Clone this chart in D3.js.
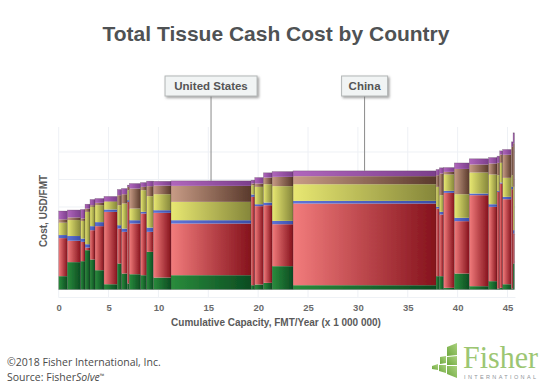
<!DOCTYPE html>
<html>
<head>
<meta charset="utf-8">
<script src="https://cdn.jsdelivr.net/npm/d3@7"></script>
<style>
    html, body { margin: 0; padding: 0; background: #fff; }
    svg { display: block; }
    text { font-family: "Liberation Sans", Arial, sans-serif; }
</style>
</head>
<body>
<div id="chart"></div>
<script>
// Mill groups (capacity in million FMT, costs in USD/FMT, estimated)
const capacity = [0.87, 1.34, 0.43, 0.5, 0.5, 0.9, 1.34, 0.43, 0.57, 0.2, 1.14, 0.6, 0.67, 1.77, 8.03, 0.37, 0.87, 0.87, 2.1, 14.34, 0.33, 0.43, 1.07, 1.5, 1.94, 0.84, 0.27, 0.3, 0.87, 0.17, 0.13]
const green  = [96, 197, 204, 283, 216, 139, 38, 187, 115, 43, 110, 103, 271, 86, 103, 31, 36, 48, 168, 31, 96, 96, 12, 115, 24, 60, 7, 12, 38, 7, 187]
const red    = [274, 154, 139, 19, 211, 317, 521, 252, 300, 588, 365, 444, 144, 466, 372, 636, 564, 559, 302, 588, 487, 444, 684, 377, 655, 535, 696, 751, 612, 715, 216]
const blue   = [22, 34, 24, 24, 29, 29, 17, 24, 24, 12, 24, 12, 31, 19, 24, 17, 14, 19, 24, 19, 12, 19, 14, 24, 12, 19, 7, 7, 17, 17, 24]
const yellow = [89, 115, 127, 233, 139, 122, 55, 144, 180, 72, 84, 156, 226, 115, 132, 67, 125, 132, 250, 120, 144, 120, 118, 170, 151, 214, 113, 142, 137, 84, 312]
const brown  = [24, 19, 17, 24, 12, 17, 5, 72, 67, 24, 144, 24, 72, 62, 115, 12, 24, 48, 67, 58, 84, 156, 19, 182, 58, 79, 89, 60, 166, 204, 312]
const purple = [60, 53, 65, 31, 41, 31, 34, 41, 41, 12, 36, 31, 36, 31, 36, 24, 43, 34, 38, 38, 41, 41, 31, 43, 41, 43, 48, 26, 38, 36, 77]

const layerNames = ["green", "red", "blue", "yellow", "brown", "purple"]
const layerValues = [green, red, blue, yellow, brown, purple]
const layerColors = [
    ["#2a8c3c", "#0c4c22"],
    ["#f27c7c", "#85121c"],
    ["#5f74d8", "#3a4ea8"],
    ["#e8e872", "#85863a"],
    ["#c89c86", "#5a3a2c"],
    ["#b066bc", "#7c3f8c"]
]
const xTicks = [0, 5, 10, 15, 20, 25, 30, 35, 40, 45]
const yGrid = [0, 198, 396, 594, 792, 990]
const callouts = [
    {name: "United States", index: 14, w: 92},
    {name: "China", index: 19, w: 46}
]

const width = 550
const height = 387

var svg = d3.select("#chart").append("svg")
    .attr("width", width)
    .attr("height", height)

var x = d3.scaleLinear().domain([0, 45]).range([58.7, 507.5])
var y = d3.scaleLinear().domain([0, 1000]).range([289.5, 150.6])

// gradients, light on the left and dark on the right
var defs = svg.append("defs")
layerNames.forEach(function (name, i) {
    var g = defs.append("linearGradient").attr("id", "grad-" + name)
    g.append("stop").attr("offset", "0%").attr("stop-color", layerColors[i][0])
    g.append("stop").attr("offset", "100%").attr("stop-color", layerColors[i][1])
})
defs.append("filter").attr("id", "soft")
    .attr("x", "-5%").attr("y", "-5%").attr("width", "110%").attr("height", "110%")
    .append("feGaussianBlur").attr("stdDeviation", 0.45)
var shadow = defs.append("filter").attr("id", "shadow")
    .attr("x", "-10%").attr("y", "-20%").attr("width", "125%").attr("height", "150%")
shadow.append("feDropShadow").attr("dx", 1.5).attr("dy", 1.5).attr("stdDeviation", 1)
    .attr("flood-color", "#777").attr("flood-opacity", 0.7)
var logoGrad = defs.append("linearGradient").attr("id", "grad-logo")
    .attr("x1", "0%").attr("y1", "100%").attr("x2", "100%").attr("y2", "0%")
logoGrad.append("stop").attr("offset", "0%").attr("stop-color", "#6fa83f")
logoGrad.append("stop").attr("offset", "100%").attr("stop-color", "#aad27e")

// title
svg.append("text")
    .attr("x", 276)
    .attr("y", 41)
    .attr("text-anchor", "middle")
    .style("font-size", "21px")
    .style("font-weight", "bold")
    .style("fill", "#4f5254")
    .text("Total Tissue Cash Cost by Country")

// grid
var plotRight = x(45.8)
var grid = svg.append("g").attr("stroke", "#eef1f5").attr("stroke-width", 1)
yGrid.forEach(function (d) {
    grid.append("line").attr("x1", x(0)).attr("x2", plotRight).attr("y1", y(d)).attr("y2", y(d))
})
grid.append("line").attr("x1", x(0)).attr("x2", plotRight).attr("y1", y(-58)).attr("y2", y(-58))
xTicks.forEach(function (d) {
    grid.append("line").attr("x1", x(d)).attr("x2", x(d)).attr("y1", y(-58)).attr("y2", y(1170))
})

// stacked bars, bar width is the capacity
var starts = []
var sum = 0
capacity.forEach(function (c) {
    starts.push(sum)
    sum += c
})

var bars = svg.append("g").attr("filter", "url(#soft)")
capacity.forEach(function (c, i) {
    var base = 0
    layerNames.forEach(function (name, j) {
        var v = layerValues[j][i]
        bars.append("rect")
            .attr("x", x(starts[i]))
            .attr("width", x(starts[i] + c) - x(starts[i]))
            .attr("y", y(base + v))
            .attr("height", y(base) - y(base + v))
            .attr("fill", "url(#grad-" + name + ")")
        base += v
    })
    bars.append("rect")
        .attr("x", x(starts[i]))
        .attr("width", x(starts[i] + c) - x(starts[i]))
        .attr("y", y(base))
        .attr("height", y(0) - y(base))
        .attr("fill", "none")
        .attr("stroke", "#3a2a35")
        .attr("stroke-opacity", 0.45)
        .attr("stroke-width", 0.5)
})

// x axis
var xAxis = svg.append("g")
    .attr("transform", "translate(0,300)")
    .call(d3.axisBottom(x).tickValues(xTicks).tickSize(0).tickPadding(4))
xAxis.select(".domain").remove()
xAxis.selectAll("text")
    .style("font-family", "'Liberation Sans', Arial, sans-serif")
    .style("font-size", "9.5px")
    .style("font-weight", "bold")
    .style("fill", "#6b6b6b")

svg.append("text")
    .attr("x", 276)
    .attr("y", 326)
    .attr("text-anchor", "middle")
    .style("font-size", "10px")
    .style("font-weight", "bold")
    .style("fill", "#5a5a5a")
    .text("Cumulative Capacity, FMT/Year (x 1 000 000)")

svg.append("text")
    .attr("transform", "translate(47,211) rotate(-90)")
    .attr("text-anchor", "middle")
    .style("font-size", "10px")
    .style("font-weight", "bold")
    .style("fill", "#5a5a5a")
    .text("Cost, USD/FMT")

// country callouts
callouts.forEach(function (d) {
    var cx = x(starts[d.index] + capacity[d.index] / 2)
    var total = d3.sum(layerValues, function (s) { return s[d.index] })
    svg.append("line")
        .attr("x1", cx).attr("x2", cx)
        .attr("y1", 96).attr("y2", y(total))
        .attr("stroke", "#8a8a8a")
        .attr("stroke-width", 1)
    svg.append("rect")
        .attr("x", cx - d.w / 2).attr("y", 76)
        .attr("width", d.w).attr("height", 20)
        .attr("fill", "#f1f4f4")
        .attr("stroke", "#b4b8b8")
        .attr("stroke-width", 1)
        .attr("filter", "url(#shadow)")
    svg.append("text")
        .attr("x", cx).attr("y", 90)
        .attr("text-anchor", "middle")
        .style("font-size", "11.5px")
        .style("font-weight", "bold")
        .style("fill", "#555")
        .text(d.name)
})

// footer
svg.append("text")
    .attr("x", 7).attr("y", 366)
    .style("font-family", "'Open Sans', sans-serif")
    .style("font-size", "10.5px")
    .style("fill", "#4a4a4a")
    .text("©2018 Fisher International, Inc.")
var source = svg.append("text")
    .attr("x", 7).attr("y", 381)
    .style("font-family", "'Open Sans', sans-serif")
    .style("font-size", "10.5px")
    .style("fill", "#4a4a4a")
source.append("tspan").text("Source: Fisher")
source.append("tspan").style("font-style", "italic").text("Solve")
source.append("tspan").attr("dy", -3).style("font-size", "6px").text("™")

// logo
var blocks = [
    "447,347 457,343 457,355 447,356",
    "440,357 446,356 446,363 440,364",
    "447,357 457,356 457,365 447,365",
    "432,366 438,364 438,370 432,369",
    "439,365 446,365 446,373 439,371",
    "447,366 457,366 457,378 447,374"
]
svg.append("g").selectAll("polygon").data(blocks).join("polygon")
    .attr("points", function (d) { return d })
    .attr("fill", "url(#grad-logo)")
svg.append("text")
    .attr("x", 463).attr("y", 368)
    .attr("textLength", 75)
    .attr("lengthAdjust", "spacingAndGlyphs")
    .style("font-family", "'Liberation Serif', serif")
    .style("font-size", "31px")
    .style("fill", "#9cc672")
    .text("Fisher")
svg.append("text")
    .attr("x", 464).attr("y", 379)
    .attr("textLength", 72)
    .style("font-size", "5.5px")
    .style("fill", "#8f9499")
    .text("INTERNATIONAL")
</script>
</body>
</html>
